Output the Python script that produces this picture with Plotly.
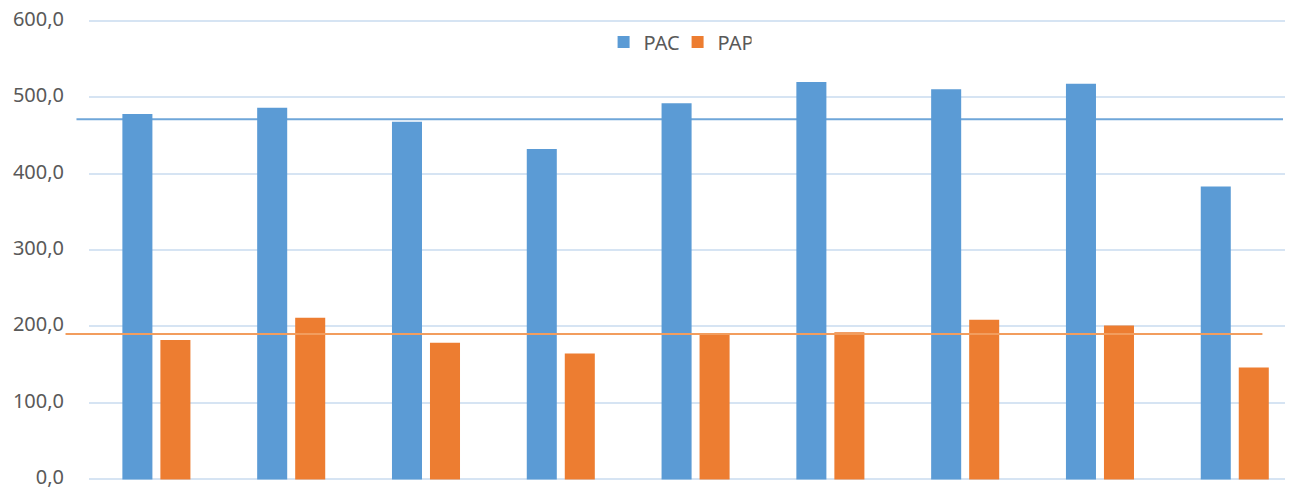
import plotly.graph_objects as go

categories = ["1", "2", "3", "4", "5", "6", "7", "8", "9"]
pac = [477.7, 486.0, 467.7, 432.0, 492.0, 519.5, 510.3, 517.3, 383.0]
pap = [182.2, 211.3, 178.6, 164.8, 190.9, 192.6, 208.7, 201.4, 146.5]
pac_line = 471.0
pap_line = 190.3

BLUE = "#5B9BD5"
ORANGE = "#ED7D31"
TEXT = "#595959"

fig = go.Figure()
fig.add_trace(go.Bar(x=categories, y=pac, name="PAC",
                     marker=dict(color=BLUE, line=dict(width=0))))
fig.add_trace(go.Bar(x=categories, y=pap, name="PAP",
                     marker=dict(color=ORANGE, line=dict(width=0))))

# reference lines (drawn slightly past the plot edges like the original)
fig.add_shape(type="line", xref="paper", yref="y", x0=-0.0104, x1=0.9917,
              y0=pac_line, y1=pac_line, line=dict(color="#6FA6D9", width=2), layer="below")
fig.add_shape(type="line", xref="paper", yref="y", x0=-0.0195, x1=0.9746,
              y0=pap_line, y1=pap_line, line=dict(color="#F29D5E", width=2), layer="above")

# the page body adds an 8px offset, so the figure is 8px smaller;
# y range padded a little so the 0 and 600 gridlines are not clipped
fig.update_layout(
    width=1285, height=482,
    margin=dict(l=81, r=0, t=10.5, b=9),
    plot_bgcolor="white", paper_bgcolor="white",
    separators=",.",
    barmode="group", bargap=0.436, bargroupgap=0.21,
    font=dict(family="Noto Sans", size=20, color=TEXT),
    showlegend=True,
    legend=dict(orientation="h", x=0.4274, xanchor="left", y=0.95, yanchor="middle",
                bgcolor="rgba(0,0,0,0)", font=dict(size=20, color=TEXT),
                itemwidth=30, entrywidth=29, entrywidthmode="pixels",
                traceorder="normal"),
    xaxis=dict(range=[-0.5, 8.432], showticklabels=False, showgrid=False,
               zeroline=False, showline=False, ticks="", automargin=False),
    yaxis=dict(range=[-2, 602], tickvals=[0, 100, 200, 300, 400, 500, 600],
               tickformat=".1f", showgrid=True, ticklabeloverflow="allow",
               ticklabelshift=-2,
               gridcolor="#D6E4F3", gridwidth=1.5, zeroline=False, showline=False,
               ticks="outside", ticklen=20, tickcolor="rgba(0,0,0,0)",
               automargin=False),
)

fig.write_html("out.html")
